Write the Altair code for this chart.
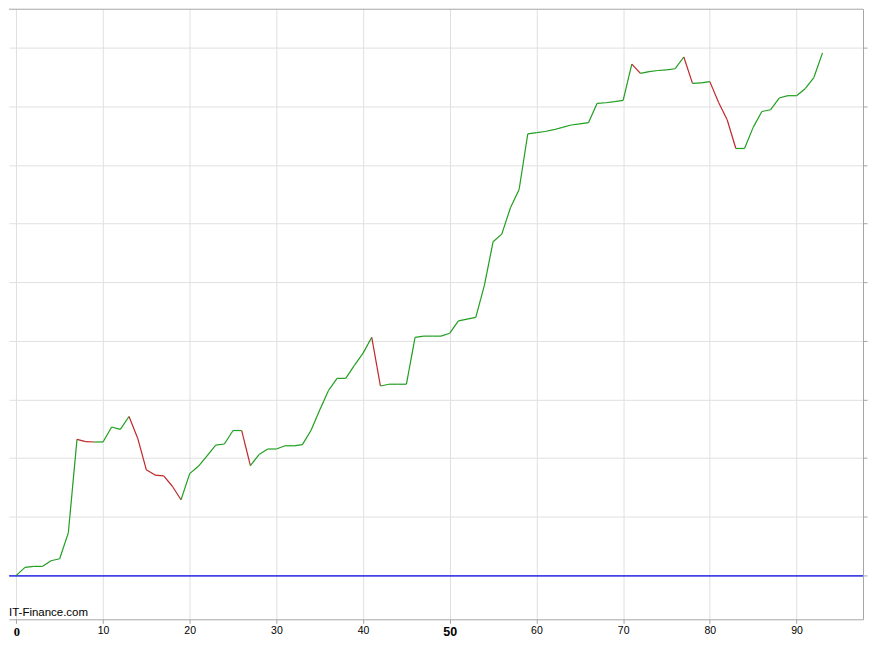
import altair as alt
import pandas as pd

# Trading days (x) and the performance value (y, grid units of 10)
days = list(range(94))
values = [
    0.0, 1.36, 1.53, 1.53, 2.50, 2.84, 7.26, 23.2, 22.8, 22.75,
    22.75, 25.3, 24.9, 27.1, 23.4, 18.0, 17.1, 16.96, 15.2, 12.9,
    17.35, 18.6, 20.4, 22.2, 22.4, 24.7, 24.7, 18.7, 20.6, 21.55,
    21.55, 22.1, 22.1, 22.3, 24.75, 28.2, 31.5, 33.6, 33.6, 35.8,
    37.9, 40.6, 32.3, 32.6, 32.6, 32.6, 40.6, 40.8, 40.8, 40.8,
    41.3, 43.4, 43.7, 44.0, 49.5, 56.9, 58.2, 62.7, 65.8, 75.3,
    75.5, 75.7, 76.0, 76.4, 76.8, 77.0, 77.2, 80.5, 80.6, 80.8,
    81.0, 87.2, 85.6, 85.9, 86.1, 86.2, 86.4, 88.4, 83.9, 84.0,
    84.2, 80.7, 77.7, 72.8, 72.8, 76.4, 79.1, 79.4, 81.4, 81.8,
    81.8, 83.0, 84.9, 89.1,
]
# Segments (by starting day) drawn in red
down_segments = [7, 8, 13, 14, 15, 16, 17, 18, 26, 41, 71, 77, 80, 81, 82]
x_ticks = [0, 10, 20, 30, 40, 50, 60, 70, 80, 90]
y_grid = [0, 10, 20, 30, 40, 50, 60, 70, 80, 90]
baseline = [0]
watermark = "IT-Finance.com"

GREEN = "#1f9e1f"
RED = "#c0272a"
BLUE = "#2020e6"
AXIS_GREY = "#a6a6a6"
GRID_GREY = "#e0e0e0"

W, H = 856, 612

seg = pd.DataFrame({
    "x0": days[:-1],
    "x1": days[1:],
    "y0": values[:-1],
    "y1": values[1:],
    "dir": ["down" if d in down_segments else "up" for d in days[:-1]],
})

xscale = alt.Scale(domain=[-0.844, 97.67], nice=False, zero=False)
yscale = alt.Scale(domain=[-7.49, 96.63], nice=False, zero=False)

x_axis = alt.Axis(
    values=x_ticks, grid=True, gridColor=GRID_GREY, title=None,
    domainColor=AXIS_GREY, tickColor=AXIS_GREY, tickSize=4, labelPadding=2,
    labelColor="black", labelFlush=False, labelOverlap=False,
    labelFont={"condition": {"test": "datum.value == 0", "value": "Liberation Serif"},
               "value": "Liberation Sans"},
    labelFontSize={"condition": {"test": "datum.value == 0 || datum.value == 50", "value": 12.5},
                   "value": 10.5},
    labelFontWeight={"condition": {"test": "datum.value == 0 || datum.value == 50", "value": "bold"},
                     "value": "normal"},
)
y_axis = alt.Axis(
    orient="right", values=y_grid, grid=True, labels=False,
    gridColor={"condition": {"test": "datum.value == 0", "value": BLUE}, "value": GRID_GREY},
    title=None, domainColor=AXIS_GREY, tickColor=AXIS_GREY, tickSize=4,
)

blue = alt.Chart(pd.DataFrame({"v": baseline})).mark_rule(
    color=BLUE, strokeWidth=1, yOffset=0.5
).encode(y=alt.Y("v:Q", scale=yscale, axis=y_axis))

lines = alt.Chart(seg).mark_rule(strokeWidth=1.2).encode(
    x=alt.X("x0:Q", scale=xscale, axis=x_axis),
    x2="x1",
    y=alt.Y("y0:Q", scale=yscale, axis=y_axis),
    y2="y1",
    color=alt.Color("dir:N", scale=alt.Scale(domain=["up", "down"], range=[GREEN, RED]),
                    legend=None),
)

top_border = alt.Chart(pd.DataFrame({"v": [0]})).mark_rule(
    color=AXIS_GREY, strokeWidth=1
).encode(x=alt.value(0), x2=alt.value(W), y=alt.value(0.5))

label = alt.Chart(pd.DataFrame({"t": [watermark]})).mark_text(
    align="left", baseline="alphabetic", font="Liberation Sans", fontSize=11.5, color="black"
).encode(x=alt.value(0), y=alt.value(H - 3), text="t:N")

chart = alt.layer(blue, lines, top_border, label).properties(
    width=W, height=H, padding=0
).configure_view(strokeWidth=0)

chart.save("out.html", embed_options={"renderer": "svg", "actions": False})
